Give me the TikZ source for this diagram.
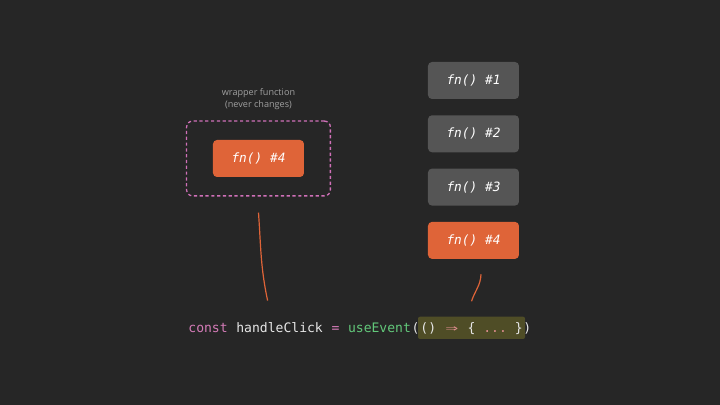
\documentclass[tikz,border=0pt]{standalone}
\usepackage{fontspec}
\setmonofont{DejaVu Sans Mono}
\setsansfont{Open Sans}
\usetikzlibrary{positioning,fit}

\definecolor{bgdark}{HTML}{262626}
\definecolor{fnorange}{HTML}{DF6438}
\definecolor{fngray}{HTML}{555555}
\definecolor{wrappink}{HTML}{D070B8}
\definecolor{labelgray}{HTML}{A0A0A0}
\definecolor{codewhite}{HTML}{E6E6E6}
\definecolor{kwpink}{HTML}{D57BB8}
\definecolor{callgreen}{HTML}{62C87A}
\definecolor{hlolive}{HTML}{4F4D26}
\definecolor{arrowsalmon}{HTML}{DC8C8C}

\newcommand\fnfont{\ttfamily\itshape\fontsize{6.4}{7}\selectfont}
\newcommand\codefont{\ttfamily\fontsize{6.53}{8}\selectfont}

\begin{document}
\begin{tikzpicture}[x=0.5pt, y=0.5pt,
    fnbox/.style={rounded corners=2pt, minimum width=45.5pt, minimum height=18.5pt,
      inner sep=0pt, text=white, font=\fnfont},
    code/.style={font=\codefont, text=codewhite, inner sep=0pt, anchor=base west},
    link/.style={draw=fnorange, line width=0.6pt}]

    % Background
    % ---------------------
    \fill[bgdark] (0,0) rectangle (720,405);

    % Wrapper function
    % ---------------------
    \node[fnbox, fill=fnorange] (fnwrap) at (258.5,246.5) {fn() \#4};
    \node[draw=wrappink, line width=0.65pt, dash pattern=on 1.6pt off 1.3pt,
      rounded corners=3pt, inner xsep=13pt, inner ysep=9.25pt, fit=(fnwrap)] (wrap) {};
    \node[above=5pt of wrap, inner sep=0pt, align=center, text=labelgray,
      font=\sffamily\fontsize{4.55}{6}\selectfont] (wraplabel) {wrapper function\\(never changes)};

    % Stack of functions
    % ---------------------
    \node[fnbox, fill=fngray] (fn1) at (473.5,324.5) {fn() \#1};
    \node[fnbox, fill=fngray, below=7.75pt of fn1] (fn2) {fn() \#2};
    \node[fnbox, fill=fngray, below=7.75pt of fn2] (fn3) {fn() \#3};
    \node[fnbox, fill=fnorange, below=7.75pt of fn3] (fn4) {fn() \#4};

    % Code line
    % ---------------------
    \node[code, text=kwpink] (kwconst) at (188,72) {const};
    \node[code] (handle) at ([xshift=3.93pt]kwconst.base east) {handleClick};
    \node[code, text=kwpink] (eq) at ([xshift=3.93pt]handle.base east) {=};
    \node[code, text=callgreen] (useev) at ([xshift=3.93pt]eq.base east) {useEvent};
    \node[code] (open) at (useev.base east) {(};
    \node[code, fill=hlolive, rounded corners=1pt, inner xsep=1.2pt, text height=8.15pt, text depth=3pt] (hl)
      at ([xshift=-1.2pt]open.base east) {() \textcolor{arrowsalmon}{\makebox[1.204em]{\scalebox{1.6}[1]{⇒}}} \{ \textcolor{arrowsalmon}{...} \}};
    \node[code] (close) at ([xshift=-1.2pt]hl.base east) {)};

    % Connectors
    % ---------------------
    \draw[link] ([shift={(0,-16)}]wrap.south) to[out=-86, in=102] ([shift={(-12,22)}]handle.north);
    \draw[link] ([shift={(7.5,-15)}]fn4.south) to[out=-92, in=72] ([shift={(0,15)}]hl.north);
  \end{tikzpicture}
\end{document}
